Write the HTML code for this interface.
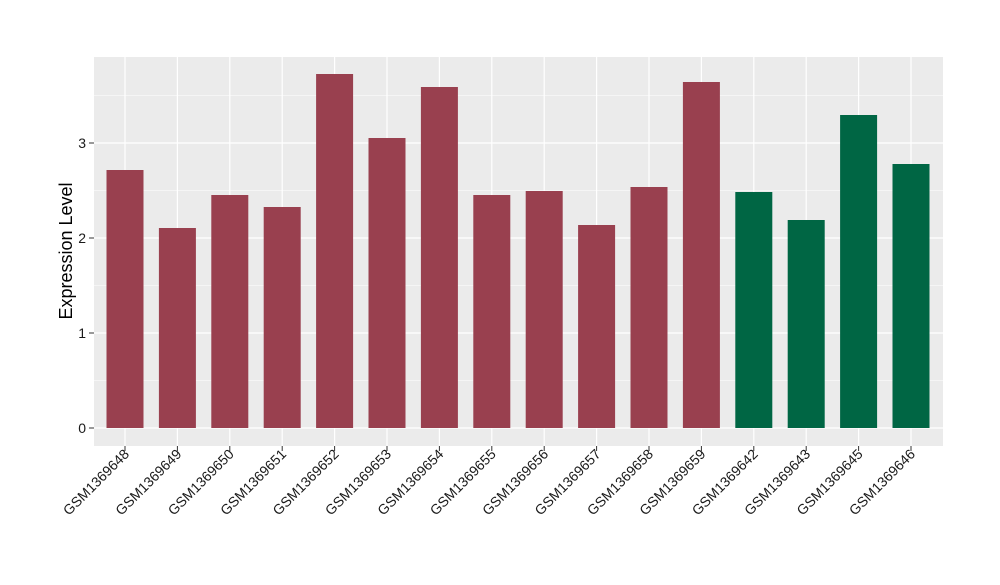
<!DOCTYPE html>
<html><head><meta charset="utf-8"><style>body{margin:0;background:#fff}</style></head><body>
<svg width="1000" height="580" xmlns="http://www.w3.org/2000/svg" font-family="Liberation Sans, sans-serif">
<rect x="0" y="0" width="1000" height="580" fill="#fff"/>
<rect x="94" y="57" width="849" height="389" fill="#ebebeb"/>
<g stroke="#fff" stroke-width="0.6">
<line x1="94" x2="943" y1="380.5" y2="380.5"/><line x1="94" x2="943" y1="285.5" y2="285.5"/><line x1="94" x2="943" y1="190.5" y2="190.5"/><line x1="94" x2="943" y1="95.5" y2="95.5"/>
</g>
<g stroke="#fff" stroke-width="1.2">
<line x1="94" x2="943" y1="428" y2="428"/><line x1="94" x2="943" y1="333" y2="333"/><line x1="94" x2="943" y1="238" y2="238"/><line x1="94" x2="943" y1="143" y2="143"/>
<line x1="125" x2="125" y1="57" y2="446"/><line x1="177.4" x2="177.4" y1="57" y2="446"/><line x1="229.8" x2="229.8" y1="57" y2="446"/><line x1="282.2" x2="282.2" y1="57" y2="446"/><line x1="334.6" x2="334.6" y1="57" y2="446"/><line x1="387" x2="387" y1="57" y2="446"/><line x1="439.4" x2="439.4" y1="57" y2="446"/><line x1="491.8" x2="491.8" y1="57" y2="446"/><line x1="544.2" x2="544.2" y1="57" y2="446"/><line x1="596.6" x2="596.6" y1="57" y2="446"/><line x1="649" x2="649" y1="57" y2="446"/><line x1="701.4" x2="701.4" y1="57" y2="446"/><line x1="753.8" x2="753.8" y1="57" y2="446"/><line x1="806.2" x2="806.2" y1="57" y2="446"/><line x1="858.6" x2="858.6" y1="57" y2="446"/><line x1="911" x2="911" y1="57" y2="446"/>
</g>
<g fill="#99404f">
<rect x="106.5" y="170" width="37" height="258"/>
<rect x="158.9" y="228" width="37" height="200"/>
<rect x="211.3" y="195" width="37" height="233"/>
<rect x="263.7" y="207" width="37" height="221"/>
<rect x="316.1" y="74" width="37" height="354"/>
<rect x="368.5" y="138" width="37" height="290"/>
<rect x="420.9" y="87" width="37" height="341"/>
<rect x="473.3" y="195" width="37" height="233"/>
<rect x="525.7" y="191" width="37" height="237"/>
<rect x="578.1" y="225" width="37" height="203"/>
<rect x="630.5" y="187" width="37" height="241"/>
<rect x="682.9" y="82" width="37" height="346"/>
</g>
<g fill="#006644">
<rect x="735.3" y="192" width="37" height="236"/>
<rect x="787.7" y="220" width="37" height="208"/>
<rect x="840.1" y="115" width="37" height="313"/>
<rect x="892.5" y="164" width="37" height="264"/>
</g>
<g stroke="#333" stroke-width="1">
<line x1="89" x2="94" y1="428" y2="428"/><line x1="89" x2="94" y1="333" y2="333"/><line x1="89" x2="94" y1="238" y2="238"/><line x1="89" x2="94" y1="143" y2="143"/>
<line x1="125" x2="125" y1="446" y2="451"/><line x1="177.4" x2="177.4" y1="446" y2="451"/><line x1="229.8" x2="229.8" y1="446" y2="451"/><line x1="282.2" x2="282.2" y1="446" y2="451"/><line x1="334.6" x2="334.6" y1="446" y2="451"/><line x1="387" x2="387" y1="446" y2="451"/><line x1="439.4" x2="439.4" y1="446" y2="451"/><line x1="491.8" x2="491.8" y1="446" y2="451"/><line x1="544.2" x2="544.2" y1="446" y2="451"/><line x1="596.6" x2="596.6" y1="446" y2="451"/><line x1="649" x2="649" y1="446" y2="451"/><line x1="701.4" x2="701.4" y1="446" y2="451"/><line x1="753.8" x2="753.8" y1="446" y2="451"/><line x1="806.2" x2="806.2" y1="446" y2="451"/><line x1="858.6" x2="858.6" y1="446" y2="451"/><line x1="911" x2="911" y1="446" y2="451"/>
</g>
<g font-size="14" fill="#1a1a1a" text-anchor="end">
<text x="86" y="433">0</text><text x="86" y="338">1</text><text x="86" y="243">2</text><text x="86" y="148">3</text>
</g>
<g font-size="14" fill="#1a1a1a" text-anchor="end">
<text transform="translate(130,455) rotate(-45)">GSM1369648</text>
<text transform="translate(182.4,455) rotate(-45)">GSM1369649</text>
<text transform="translate(234.8,455) rotate(-45)">GSM1369650</text>
<text transform="translate(287.2,455) rotate(-45)">GSM1369651</text>
<text transform="translate(339.6,455) rotate(-45)">GSM1369652</text>
<text transform="translate(392,455) rotate(-45)">GSM1369653</text>
<text transform="translate(444.4,455) rotate(-45)">GSM1369654</text>
<text transform="translate(496.8,455) rotate(-45)">GSM1369655</text>
<text transform="translate(549.2,455) rotate(-45)">GSM1369656</text>
<text transform="translate(601.6,455) rotate(-45)">GSM1369657</text>
<text transform="translate(654,455) rotate(-45)">GSM1369658</text>
<text transform="translate(706.4,455) rotate(-45)">GSM1369659</text>
<text transform="translate(758.8,455) rotate(-45)">GSM1369642</text>
<text transform="translate(811.2,455) rotate(-45)">GSM1369643</text>
<text transform="translate(863.6,455) rotate(-45)">GSM1369645</text>
<text transform="translate(916,455) rotate(-45)">GSM1369646</text>
</g>
<text transform="translate(72,251) rotate(-90)" text-anchor="middle" font-size="18" fill="#000">Expression Level</text>
</svg>
</body></html>
